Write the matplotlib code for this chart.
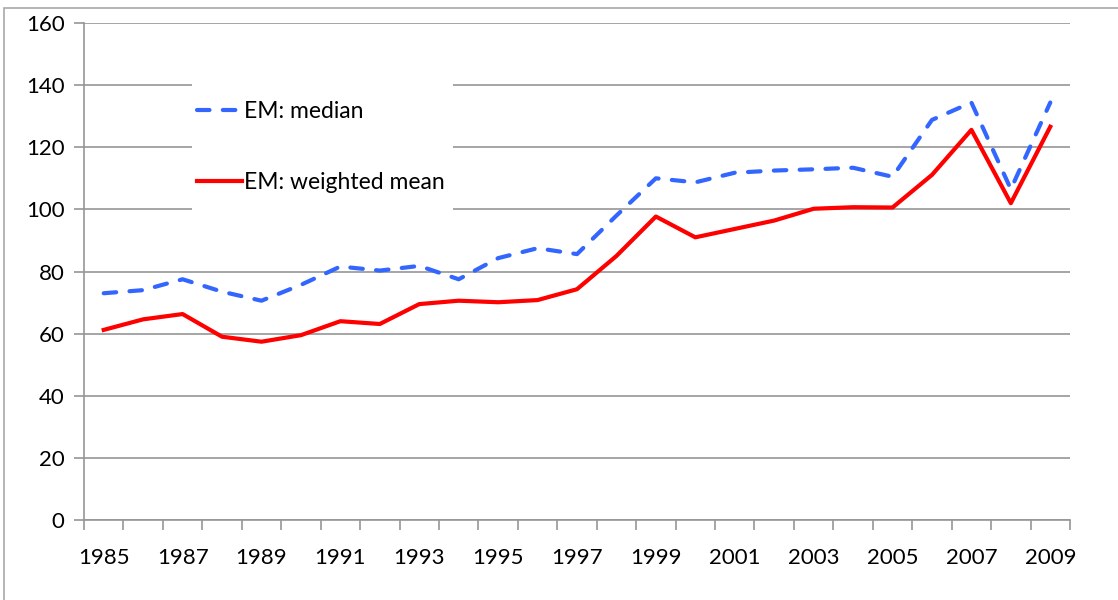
import matplotlib.pyplot as plt
from matplotlib.patches import Rectangle

years = list(range(1985, 2010))
median = [73.0, 74.0, 77.5, 73.5, 70.6, 75.7, 81.6, 80.3, 81.8, 77.5,
          84.3, 87.5, 85.6, 98.0, 110.0, 108.7, 111.8, 112.5, 112.9, 113.4,
          110.5, 128.8, 134.4, 106.5, 134.4]
wmean = [61.2, 64.6, 66.3, 59.0, 57.4, 59.5, 64.0, 63.1, 69.5, 70.6,
         70.1, 70.8, 74.3, 85.0, 97.7, 91.0, 93.7, 96.4, 100.2, 100.7,
         100.6, 111.1, 125.6, 102.0, 126.6]
tick_years = years[::2]

plt.rcParams['font.family'] = ['Lato', 'DejaVu Sans']
grey = '#969696'
fs = 16
lfs = 16.5

fig = plt.figure(figsize=(11.18, 6), dpi=100)
ax = fig.add_axes([84 / 1118, 80 / 600, 986 / 1118, 497 / 600])

# outer chart border (cut off at right/bottom like the screenshot)
fig.patches.append(Rectangle((4 / 1118, -0.1), 1.2, 1.1 - 8 / 600,
                             transform=fig.transFigure, fill=False,
                             edgecolor='#a8a8a8', linewidth=1.2, clip_on=False))

# white legend area that hides the gridlines
ax.add_patch(Rectangle((192 / 1118, 1 - 212 / 600), 261 / 1118, 133 / 600,
                       transform=fig.transFigure, facecolor='white',
                       edgecolor='none', zorder=2))

x = [i + 0.5 for i in range(len(years))]
ax.plot(x, median, color='#3366ff', linewidth=3, linestyle=(0, (3.0, 3.2)),
        dash_capstyle='round', label='EM: median', zorder=3)
ax.plot(x, wmean, color='#ff0000', linewidth=3, label='EM: weighted mean',
        zorder=3)

ax.set_xlim(0, len(years))
ax.set_ylim(0, 160)
ax.set_yticks(range(0, 161, 20))
ax.yaxis.grid(True, color=grey, linewidth=1.2)
ax.set_axisbelow(True)

ax.set_xticks(range(len(years) + 1))
ax.set_xticklabels([])
ax.set_xticks([years.index(y) + 0.5 for y in tick_years], minor=True)
ax.set_xticklabels([str(y) for y in tick_years], minor=True)
ax.tick_params(axis='x', which='minor', length=0, pad=20, labelsize=fs)
ax.tick_params(axis='x', which='major', length=7, color=grey, width=1.2)
ax.tick_params(axis='y', length=7, color=grey, width=1.2, labelsize=fs, pad=7)

for s in ['top', 'right']:
    ax.spines[s].set_visible(False)
for s in ['left', 'bottom']:
    ax.spines[s].set_color(grey)
    ax.spines[s].set_linewidth(1.2)

leg = ax.legend(loc='upper left', bbox_to_anchor=(197 / 1118, 1 - 101 / 600),
                bbox_transform=fig.transFigure, fontsize=lfs, frameon=False,
                borderpad=0, labelspacing=2.2,
                handlelength=1.95, handletextpad=0.1, borderaxespad=0)
leg.set_zorder(4)

fig.savefig('out.png', dpi=100)
